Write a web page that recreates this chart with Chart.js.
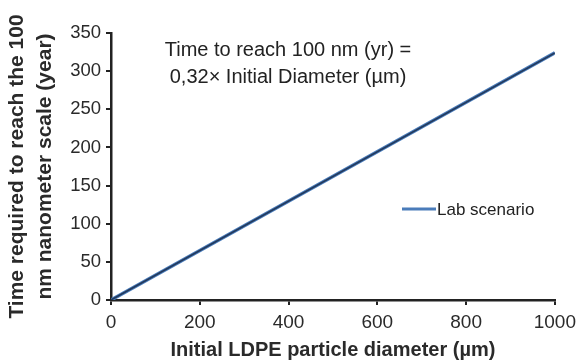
<!DOCTYPE html>
<html>
<head>
<meta charset="utf-8">
<script src="https://cdn.jsdelivr.net/npm/chart.js@4"></script>
<style>
html,body{margin:0;padding:0;background:#fff;}
#wrap{width:582px;height:362px;position:relative;}
</style>
</head>
<body>
<div id="wrap"><canvas id="c" width="582" height="362"></canvas></div>
<script>
const diameters = [0, 1000];
const labYears = [0, 324];
const seriesLabel = "Lab scenario";
const xTicks = [0, 200, 400, 600, 800, 1000];
const yTicks = [0, 50, 100, 150, 200, 250, 300, 350];
const xTitle = "Initial LDPE particle diameter (µm)";
const yTitle = ["Time required to reach the 100", "nm nanometer scale (year)"];
const noteLines = ["Time to reach 100 nm (yr) =", "0,32\u00D7 Initial Diameter (µm)"];

const FONT = "'Liberation Sans', Arial, sans-serif";
const TXT = "#2a2a2a";
const pts = diameters.map((d, i) => ({x: d, y: labYears[i]}));

const overlay = {
  id: 'overlay',
  afterDraw(chart) {
    const ctx = chart.ctx;
    ctx.save();
    ctx.fillStyle = "#222";
    ctx.font = "20px " + FONT;
    ctx.textAlign = "center";
    ctx.textBaseline = "middle";
    const cx = 288;
    ctx.fillText(noteLines[0], cx, 50);
    ctx.fillText(noteLines[1], cx, 77);
    // legend
    const ds = chart.data.datasets.find(d => d.label === seriesLabel);
    ctx.strokeStyle = ds.borderColor;
    ctx.lineWidth = 3;
    ctx.beginPath();
    ctx.moveTo(402, 209);
    ctx.lineTo(436, 209);
    ctx.stroke();
    ctx.textAlign = "left";
    ctx.font = "17px " + FONT;
    ctx.fillText(ds.label, 437, 210);
    ctx.restore();
  }
};

new Chart(document.getElementById('c'), {
  type: 'scatter',
  data: {
    datasets: [
      {label: '', data: pts, showLine: true, borderColor: '#22395c', borderWidth: 1.6, pointRadius: 0, fill: false},
      {label: seriesLabel, data: pts, showLine: true, borderColor: '#4a7cba', borderWidth: 3.5, pointRadius: 0, fill: false}
    ]
  },
  options: {
    responsive: false,
    animation: false,
    events: [],
    layout: {padding: {top: 33, right: 24, left: 0, bottom: 0}},
    plugins: {legend: {display: false}, tooltip: {enabled: false}},
    scales: {
      x: {
        type: 'linear', min: 0, max: 1000,
        afterFit(s) { s.height = 62; },
        afterBuildTicks(s) { s.ticks = xTicks.map(v => ({value: v})); },
        grid: {drawOnChartArea: false, drawTicks: true, tickLength: 5, color: '#222', lineWidth: 2},
        border: {color: '#222', width: 2.5},
        ticks: {color: TXT, font: {family: FONT, size: 19}, padding: 6, maxRotation: 0, callback: v => String(v)},
        title: {display: true, text: xTitle, color: TXT, font: {family: FONT, size: 20, weight: 'bold', lineHeight: 1.2}, padding: {top: 0, bottom: 0}}
      },
      y: {
        type: 'linear', min: 0, max: 350,
        afterFit(s) { s.width = 111; },
        afterBuildTicks(s) { s.ticks = yTicks.map(v => ({value: v})); },
        grid: {drawOnChartArea: false, drawTicks: true, tickLength: 5, color: '#222', lineWidth: 2},
        border: {color: '#222', width: 2.5},
        ticks: {color: TXT, font: {family: FONT, size: 18.5}, padding: 5, callback: v => String(v)},
        title: {display: true, text: yTitle, color: TXT, font: {family: FONT, size: 21, weight: 'bold', lineHeight: 1.31}, padding: {top: 3.5, bottom: 0}}
      }
    }
  },
  plugins: [overlay]
});
</script>
</body>
</html>
